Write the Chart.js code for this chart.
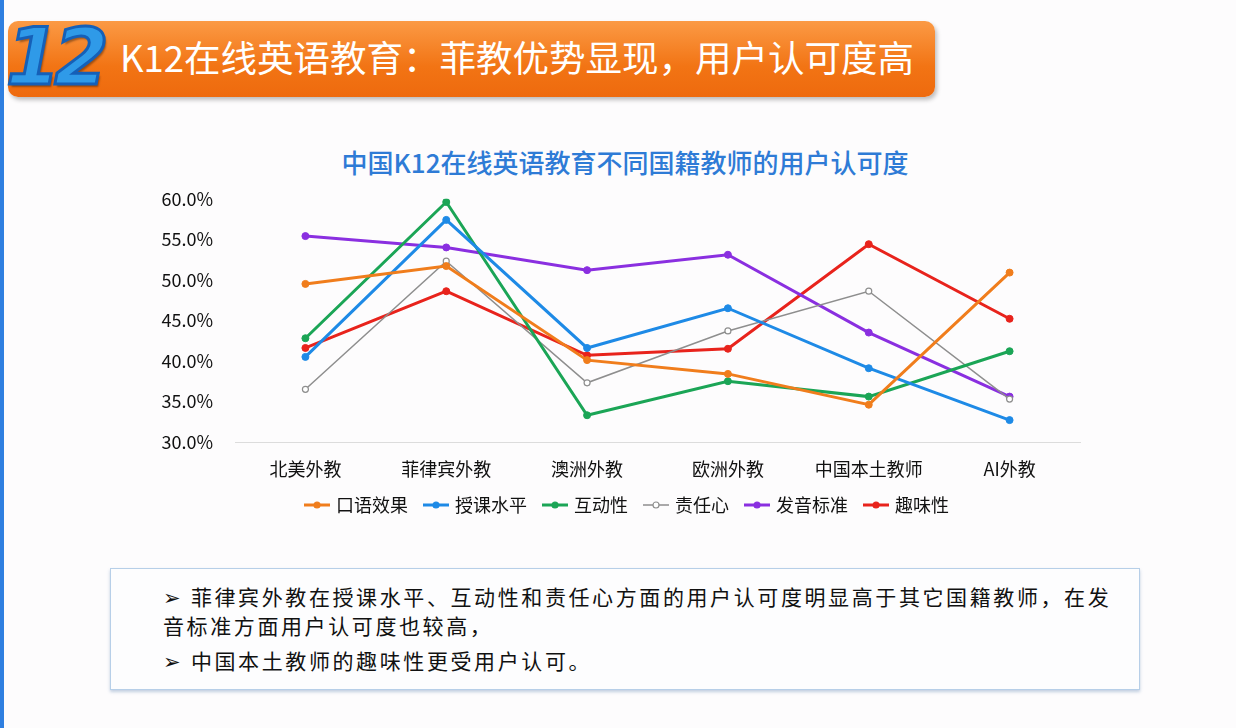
<!DOCTYPE html>
<html>
<head>
<meta charset="utf-8">
<script src="https://cdn.jsdelivr.net/npm/chart.js@4"></script>
<style>
  body { margin: 0; width: 1236px; height: 728px; background: #fdfcfd; position: relative; overflow: hidden;
         font-family: "Noto Sans CJK SC", "Noto Sans", sans-serif; }
  #leftbar { position: absolute; left: 0; top: 0; width: 4px; height: 728px; background: #2f7fe0; }
  #banner { position: absolute; left: 8px; top: 21px; width: 927px; height: 76px; border-radius: 10px;
            background: linear-gradient(#fb9a45, #f27414 60%, #ee6a0e); box-shadow: 2px 3px 4px rgba(0,0,0,0.25); }
  #num { position: absolute; left: 6px; top: 12px; font: italic 900 78px "DejaVu Sans", sans-serif; color: #2f9ae8;
         -webkit-text-stroke: 3px #1560b8; letter-spacing: -6px; text-shadow: 2px 3px 2px rgba(0,0,0,0.35); }
  #htitle { position: absolute; left: 120px; top: 30px; font-size: 36.5px; color: #fff; white-space: nowrap; }
  #ctitle { position: absolute; left: 0; width: 1250px; top: 143px; text-align: center; font-size: 26px; color: #2e7bd6; font-weight: 500; }
  #wrap { position: absolute; left: 140px; top: 174px; width: 960px; height: 350px; }
  #box { position: absolute; left: 110px; top: 568px; width: 1028px; height: 120px; border: 1px solid #b7cfe8;
         background: #fdfdfe; box-shadow: 0 2px 3px rgba(120,150,190,0.45); }
  .ln { position: absolute; left: 52px; font-size: 21px; color: #111; letter-spacing: 2.6px; white-space: nowrap; }
</style>
</head>
<body>
<div id="leftbar"></div>
<div id="banner"></div>
<div id="num">12</div>
<div id="htitle">K12在线英语教育：菲教优势显现，用户认可度高</div>
<div id="ctitle">中国K12在线英语教育不同国籍教师的用户认可度</div>
<div id="wrap"><canvas id="grafico"></canvas></div>
<div id="box">
  <div class="ln" style="top:12px">➢ 菲律宾外教在授课水平、互动性和责任心方面的用户认可度明显高于其它国籍教师，在发</div>
  <div class="ln" style="top:41px">音标准方面用户认可度也较高，</div>
  <div class="ln" style="top:76px">➢ 中国本土教师的趣味性更受用户认可。</div>
</div>
<script>
const categorias = ["北美外教", "菲律宾外教", "澳洲外教", "欧洲外教", "中国本土教师", "AI外教"];
const kouyu = [49.5, 51.7, 40.1, 38.4, 34.6, 50.9];
const shouke = [40.5, 57.4, 41.6, 46.5, 39.1, 32.7];
const hudong = [42.8, 59.6, 33.3, 37.5, 35.6, 41.2];
const zeren = [36.5, 52.3, 37.3, 43.7, 48.6, 35.3];
const fayin = [55.4, 54.0, 51.2, 53.1, 43.5, 35.6];
const quwei = [41.6, 48.6, 40.7, 41.5, 54.4, 45.2];

const series = [
  { label: "口语效果", data: kouyu, color: "#f07d1c" },
  { label: "授课水平", data: shouke, color: "#1e8ae6" },
  { label: "互动性", data: hudong, color: "#1ba556" },
  { label: "责任心", data: zeren, color: "#8e8e8e", hollow: true },
  { label: "发音标准", data: fayin, color: "#8a2fe0" },
  { label: "趣味性", data: quwei, color: "#e8231c" }
];

// marcador de la leyenda: línea con punto
function marcador(color, hollow) {
  const c = document.createElement("canvas");
  c.width = 26; c.height = 10;
  const g = c.getContext("2d");
  g.strokeStyle = color;
  g.lineWidth = hollow ? 1.5 : 3;
  g.beginPath(); g.moveTo(0, 5); g.lineTo(26, 5); g.stroke();
  g.beginPath(); g.arc(13, 5, 3, 0, Math.PI * 2);
  g.fillStyle = hollow ? "#fff" : color;
  g.fill();
  g.lineWidth = 1.2; g.stroke();
  return c;
}

// corre la leyenda un poco a la derecha
const moverLeyenda = {
  id: "moverLeyenda",
  afterLayout(chart) { chart.legend.left += 36; }
};

const ctx = document.getElementById("grafico").getContext("2d");
new Chart(ctx, {
  type: "line",
  data: {
    labels: categorias,
    datasets: series.map(s => ({
      label: s.label,
      data: s.data,
      borderColor: s.color,
      backgroundColor: s.hollow ? "#fff" : s.color,
      pointBorderColor: s.color,
      borderWidth: s.hollow ? 1.5 : 3,
      pointRadius: s.hollow ? 3 : 3.5,
      pointBorderWidth: s.hollow ? 1.2 : 1,
      fill: false,
      tension: 0
    }))
  },
  plugins: [moverLeyenda],
  options: {
    responsive: true,
    maintainAspectRatio: false,
    animation: false,
    layout: { padding: { top: 8, right: 20, left: 0, bottom: 0 } },
    plugins: {
      legend: {
        position: "bottom",
        labels: {
          usePointStyle: true,
          pointStyleWidth: 20,
          padding: 18,
          color: "#111",
          font: { size: 18, family: "'Noto Sans CJK SC'" },
          generateLabels: chart => series.map((s, i) => ({
            text: s.label,
            pointStyle: marcador(s.color, s.hollow),
            fontColor: "#111",
            lineWidth: 0,
            datasetIndex: i
          }))
        }
      },
      tooltip: { enabled: false }
    },
    scales: {
      x: {
        offset: true,
        grid: { display: false },
        border: { color: "#dcdcdc", width: 1 },
        ticks: { color: "#111", padding: 8, font: { size: 18, family: "'Noto Sans CJK SC'" } },
        afterFit: s => { s.height = 36; }
      },
      y: {
        min: 30, max: 60,
        grid: { display: false },
        border: { display: false },
        ticks: {
          stepSize: 5,
          color: "#111",
          padding: 14,
          font: { size: 18, family: "'Noto Sans CJK SC'" },
          callback: v => v.toFixed(1) + "%"
        },
        afterFit: s => { s.width = 95; }
      }
    }
  }
});
</script>
</body>
</html>
